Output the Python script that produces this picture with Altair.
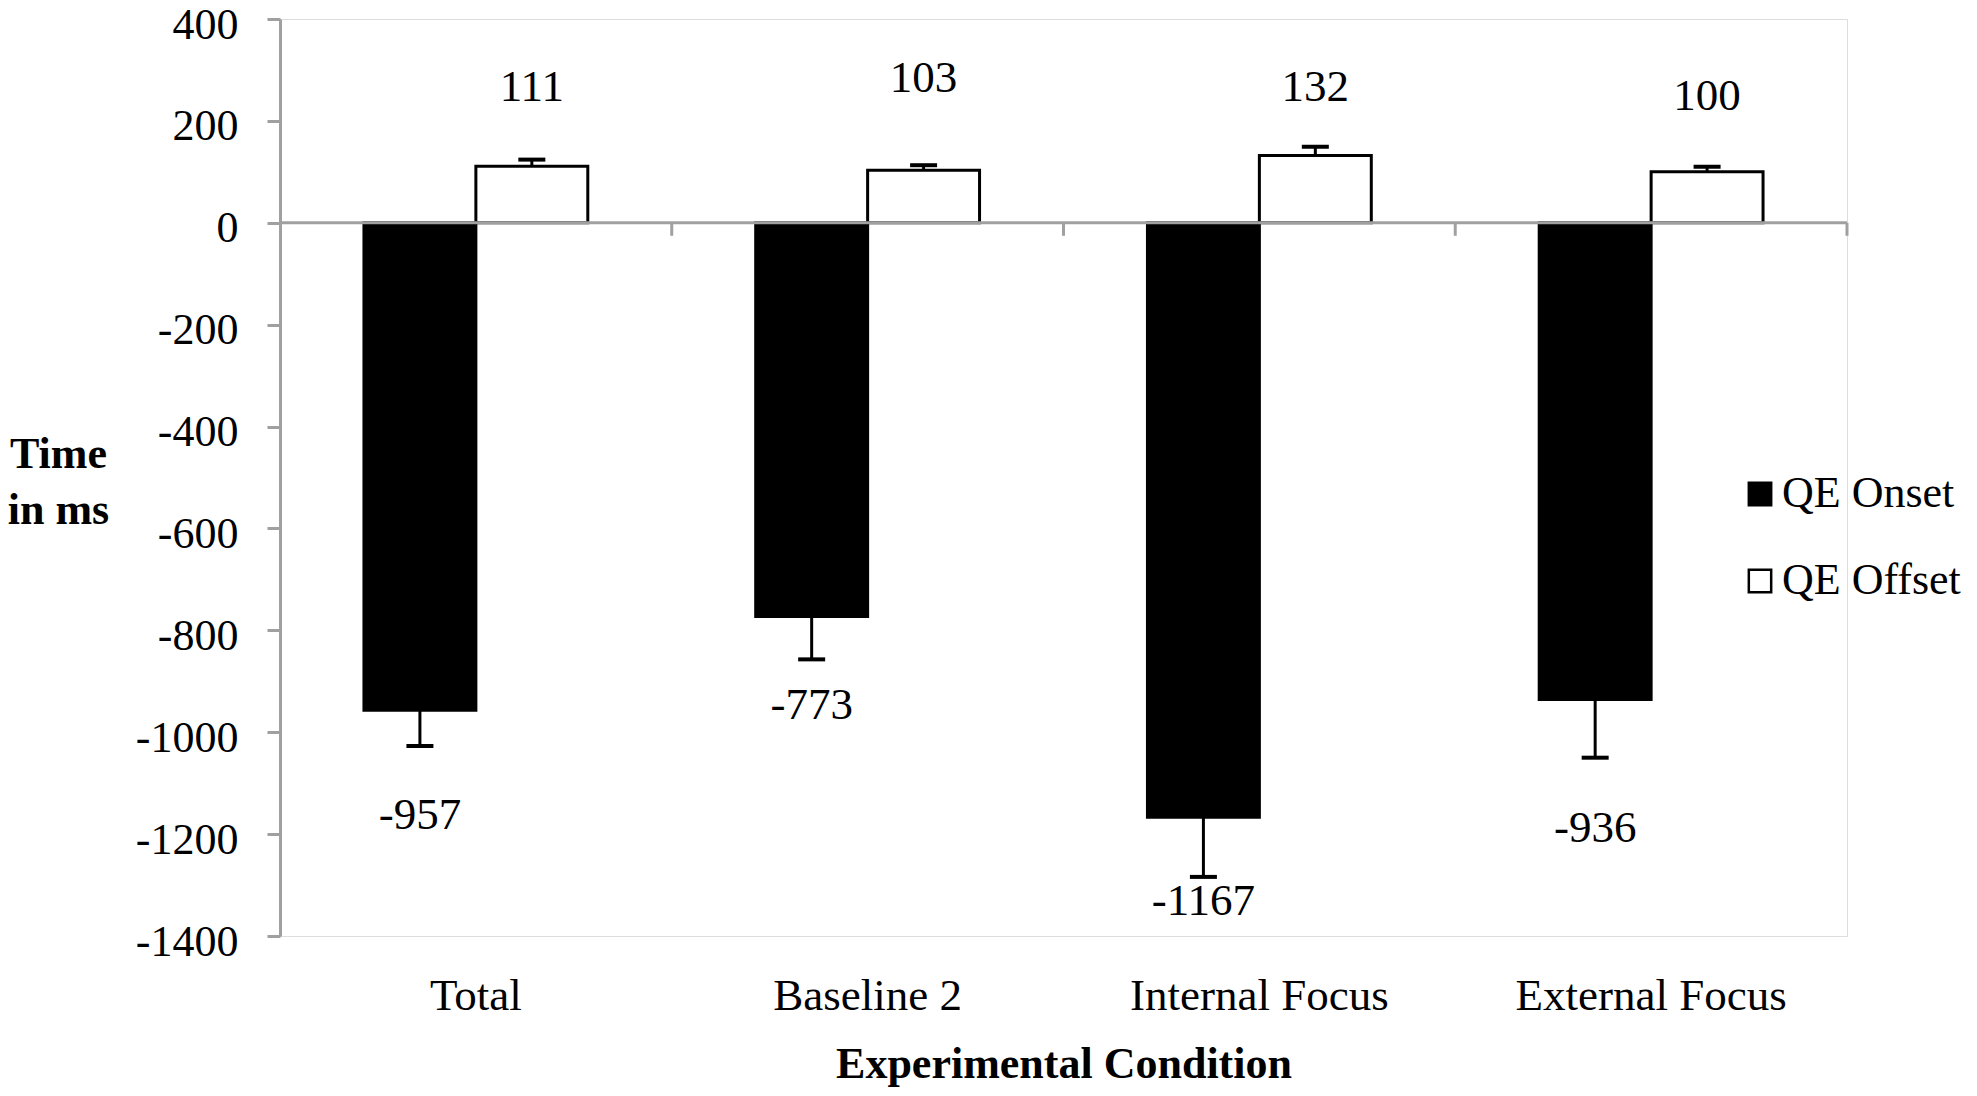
import altair as alt
import pandas as pd

# ---- data ----
conditions = ["Total", "Baseline 2", "Internal Focus", "External Focus"]
series = ["QE Onset", "QE Offset"]
onset = [-957, -773, -1167, -936]
offset = [111, 103, 132, 100]
onset_err = [70, 84, 117, 114]
offset_err = [13, 10, 17, 10]
onset_label_y = [-1162, -946, -1331, -1188]
offset_label_y = [266, 285, 266, 249]
y_ticks = [-1400, -1200, -1000, -800, -600, -400, -200, 0, 200, 400]
zero_level = [0]

rows = []
for i, c in enumerate(conditions):
    rows.append(dict(cond=c, series=series[0], value=onset[i],
                     err_end=onset[i] - onset_err[i], label_y=onset_label_y[i],
                     label=str(onset[i])))
    rows.append(dict(cond=c, series=series[1], value=offset[i],
                     err_end=offset[i] + offset_err[i], label_y=offset_label_y[i],
                     label=str(offset[i])))
df = pd.DataFrame(rows)
cond_df = pd.DataFrame({"cond": conditions})
zero_df = pd.DataFrame({"level": zero_level})

FONT = "Liberation Serif"
GRAY = "#a0a0a0"

x_scale = alt.Scale(paddingInner=0.4286, paddingOuter=0.2143)
y_scale = alt.Scale(domain=[-1400, 400], nice=False, zero=False)

x_axis = alt.Axis(
    title="Experimental Condition", titleFont=FONT, titleFontSize=44,
    titleFontWeight="bold", titleColor="black", titleBaseline="alphabetic",
    titleY=141, labelFont=FONT, labelFontSize=45, labelColor="black",
    labelAngle=0, labelPadding=37, labelLimit=400, domain=False,
    ticks=False, tickSize=0, grid=False)

y_axis = alt.Axis(
    values=y_ticks, title=["Time", "in ms"], titleAngle=0, titleAlign="center",
    titleBaseline="alphabetic", titleX=-222, titleY=448, titleFont=FONT,
    titleFontSize=44, titleFontWeight="bold", titleColor="black",
    titleLineHeight=56, labelFont=FONT, labelFontSize=44, labelColor="black",
    labelPadding=29, labelOffset=6, labelExpr="'' + datum.value",
    domainColor=GRAY, domainWidth=3, tickColor=GRAY, tickWidth=3,
    tickSize=13, grid=False)


def X(**kw):
    return alt.X("cond:N", sort=conditions, scale=x_scale, axis=x_axis, **kw)


def XO():
    return alt.XOffset("series:N", sort=series,
                       scale=alt.Scale(paddingInner=0, paddingOuter=0))


def Y(field):
    return alt.Y(field, scale=y_scale, axis=y_axis)


bars = alt.Chart(df).mark_bar(stroke="black", strokeWidth=3).encode(
    x=X(), xOffset=XO(), y=Y("value:Q"),
    color=alt.Color(
        "series:N", sort=series,
        scale=alt.Scale(domain=series, range=["black", "white"]),
        legend=alt.Legend(
            title=None, orient="none", legendX=1458, legendY=453,
            symbolType="square", symbolSize=500, symbolStrokeColor="black",
            symbolStrokeWidth=2.5, symbolOpacity=1, labelFont=FONT,
            labelFontSize=44, labelColor="black", labelOffset=0,
            labelLimit=400, rowPadding=43, padding=0)))

err = alt.Chart(df).mark_rule(color="black", strokeWidth=3).encode(
    x=X(), xOffset=XO(), y=Y("value:Q"), y2="err_end:Q")

caps = alt.Chart(df).mark_tick(color="black", orient="horizontal", size=27,
                               thickness=4, opacity=1).encode(
    x=X(), xOffset=XO(), y=Y("err_end:Q"))

zero = alt.Chart(zero_df).mark_rule(color=GRAY, strokeWidth=3).encode(
    y=Y("level:Q"))

# category boundary ticks: end of band plus half of the inner padding
bticks = alt.Chart(cond_df).mark_rule(
    color=GRAY, strokeWidth=3, y2Offset=13,
    xOffset=alt.expr("bandwidth('x') * 0.375"),
).encode(x=X(bandPosition=1), y=alt.datum(0), y2=alt.datum(0))

labels = alt.Chart(df).mark_text(font=FONT, fontSize=45, color="black",
                                 baseline="middle").encode(
    x=X(), xOffset=XO(), y=Y("label_y:Q"), text="label:N")

chart = alt.layer(bars, err, caps, zero, bticks, labels).properties(
    width=1567, height=917,
    padding={"left": 272, "top": 11, "right": 122, "bottom": 152},
    autosize=alt.AutoSizeParams(type="none"),
).configure_view(stroke=None).configure(font=FONT, background="white")

chart.save("out.html", embed_options={"renderer": "svg", "actions": False})
